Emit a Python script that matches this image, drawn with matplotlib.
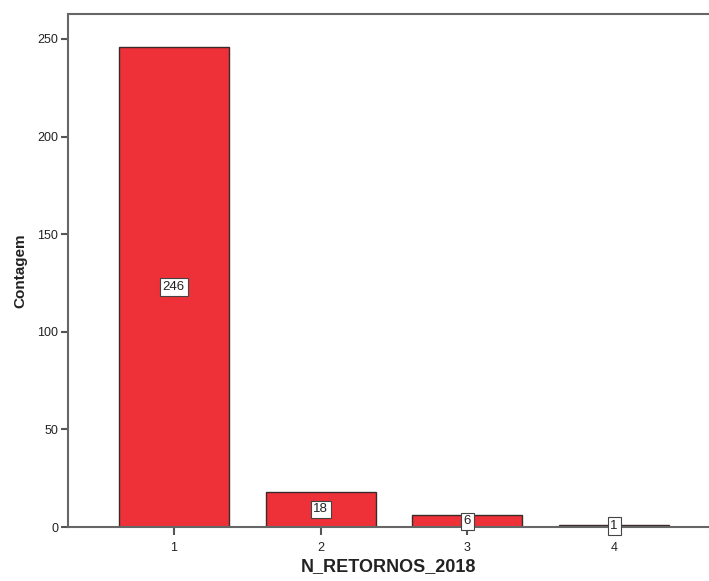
import matplotlib
matplotlib.use("Agg")
from matplotlib import pyplot as plt

# dados do grafico
categorias = [1, 2, 3, 4]
contagem = [246, 18, 6, 1]
rotulos_x = ['1', '2', '3', '4']
ticks_y = [0, 50, 100, 150, 200, 250]

plt.rcParams['font.family'] = ['Liberation Sans', 'DejaVu Sans']

fig = plt.figure(figsize=(7.09, 5.81), dpi=100)
ax = fig.add_axes([0.0959, 0.0929, 0.9041, 0.883])

ax.bar(categorias, contagem, width=0.75, color='#EE3139', edgecolor='#3a2a2a', linewidth=1)

for x, v in zip(categorias, contagem):
    ax.text(x, v / 2, str(v), ha='center', va='center', fontsize=9.5, color='#222222',
            bbox=dict(boxstyle='square,pad=0.2', facecolor='white', edgecolor='#444444', linewidth=0.8))

ax.set_xlim(0.279, 4.646)
ax.set_ylim(0, 262.8)
ax.set_xticks(categorias)
ax.set_xticklabels(rotulos_x)
ax.set_yticks(ticks_y)

for s in ['left', 'bottom', 'top']:
    ax.spines[s].set_color('#666666')
    ax.spines[s].set_linewidth(1.5)
ax.spines['right'].set_visible(False)

ax.tick_params(axis='both', colors='#555555', labelcolor='#222222', labelsize=9, width=1.5, length=5, pad=2)
ax.tick_params(axis='x', length=6, pad=5)

ax.set_xlabel('N_RETORNOS_2018', fontsize=13, fontweight='bold', color='#222222', labelpad=3)
ax.set_ylabel('Contagem', fontsize=11, fontweight='bold', color='#222222', labelpad=7)

fig.savefig('out.png', dpi=100)
